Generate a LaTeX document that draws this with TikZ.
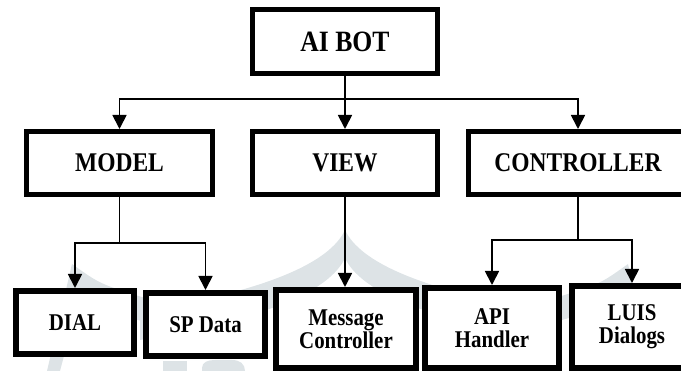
\documentclass[tikz,border=0pt]{standalone}
\usepackage{fontspec}
\setmainfont{Liberation Serif}[FakeStretch=0.87]
\usetikzlibrary{arrows.meta}
\definecolor{wmgray}{RGB}{221,227,230}
\begin{document}
\begin{tikzpicture}[x=1pt, y=-1pt,
	box/.style = {draw, line width=5pt, fill=white, inner sep=0pt, font=\fontsize{27}{29}\selectfont\bfseries},
	leaf/.style = {box, line width=6pt, align=center, font=\fontsize{24}{23}\selectfont\bfseries},
	arr/.style = {line width=1.8pt, -{Triangle[length=14pt, width=14pt]}},
	wmark/.style = {fill=wmgray}]
	\useasboundingbox (0,0) rectangle (681,371);
	\fill[wmark] (345,230) .. controls (330,262) and (270,290) .. (140,312) -- (140,340) .. controls (270,318) and (330,290) .. (345,258) .. controls (360,290) and (420,318) .. (550,340) -- (550,312) .. controls (420,290) and (360,262) .. (345,230) -- cycle;
	\fill[wmark] (72,264) .. controls (100,284) .. (145,298) -- (145,322) .. controls (110,312) .. (80,296) -- (60,371) -- (47,371) -- cycle;
	\fill[wmark] (628,264) .. controls (600,284) .. (555,298) -- (555,322) .. controls (590,312) .. (620,296) -- (640,371) -- (653,371) -- cycle;
	\fill[wmark] (163,361) rectangle (187,371);
	\fill[wmark] (202,371) -- (202,368) .. controls (202,362) and (208,360) .. (215,360) -- (232,360) .. controls (240,360) and (245,364) .. (245,371) -- cycle;
	\node[box, minimum width=185, minimum height=64, font=\fontsize{29.5}{31}\selectfont\bfseries] (bot) at (345,41.5) {AI BOT};
	\node[box, minimum width=186, minimum height=63] (model) at (119.5,163) {MODEL};
	\node[box, minimum width=185, minimum height=63] (view) at (345,163) {VIEW};
	\node[box, minimum width=219, minimum height=63] (ctrl) at (578,163) {CONTROLLER};
	\node[leaf, minimum width=118, minimum height=63] (dial) at (75,322.5) {DIAL};
	\node[leaf, minimum width=119, minimum height=63] (spdata) at (205.5,324.5) {SP Data};
	\node[leaf, minimum width=140, minimum height=78] (msg) at (346,329) {Message\\Controller};
	\node[leaf, minimum width=134, minimum height=80] (api) at (492,328) {API\\Handler};
	\node[leaf, minimum width=120, minimum height=82] (luis) at (632,327) {LUIS\\Dialogs};
	\coordinate (hub) at (345,99);
	\path (model.south) ++(0,46) coordinate (mhub);
	\path (ctrl.south) ++(0,43) coordinate (chub);
	\draw[arr] (bot) -- (view);
	\draw[arr] (hub) -| (model.north);
	\draw[arr] (hub) -| (ctrl.north);
	\draw[line width=1.8pt] (model) -- (mhub);
	\draw[arr] (mhub) -| (dial.north);
	\draw[arr] (mhub) -| (spdata.north);
	\draw[arr] (view.south) -- (view.south |- msg.north);
	\draw[line width=1.8pt] (ctrl) -- (chub);
	\draw[arr] (chub) -| (api.north);
	\draw[arr] (chub) -| (luis.north);
\end{tikzpicture}
\end{document}
